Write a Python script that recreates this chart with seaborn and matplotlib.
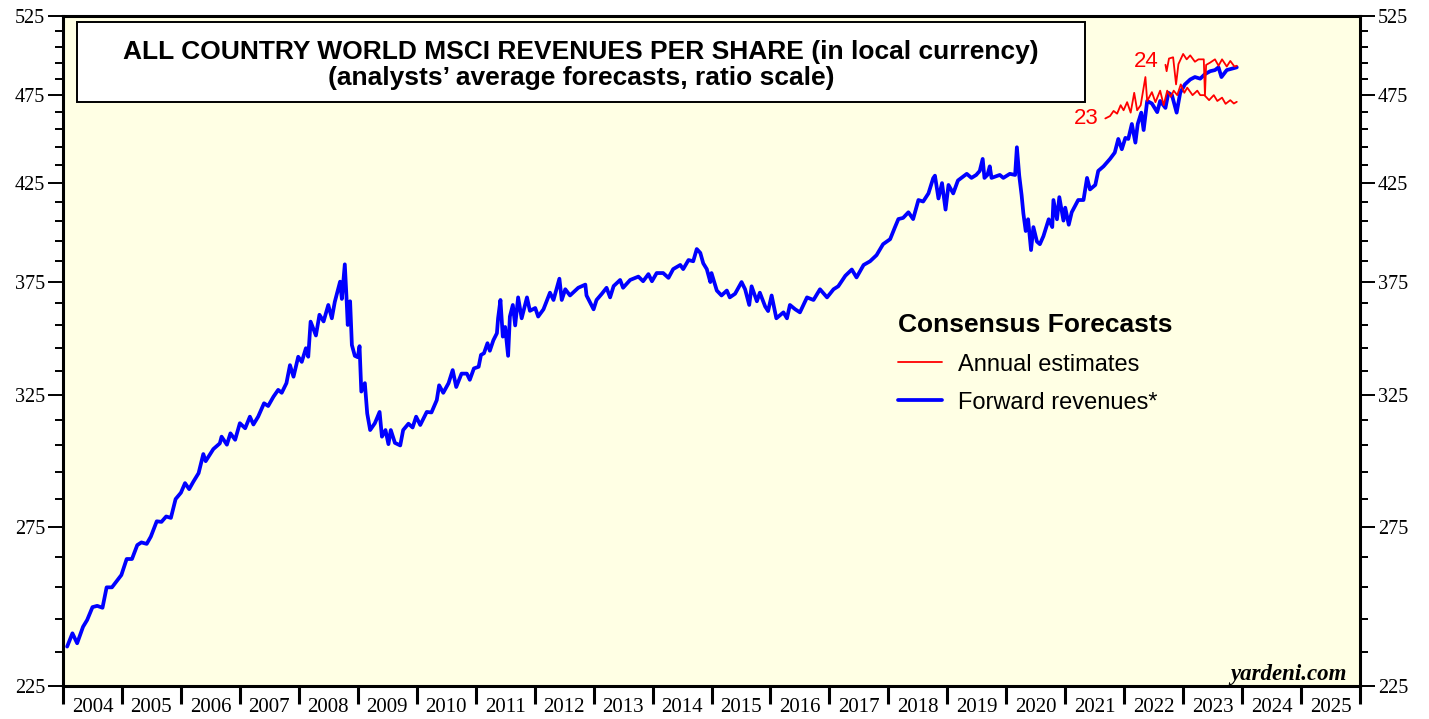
import matplotlib
matplotlib.use('Agg')
import matplotlib.pyplot as plt
import seaborn as sns
from matplotlib.patches import Rectangle
from matplotlib.ticker import NullFormatter

# Forward revenues per share (decimal year, value)
fwd_years = [
    2004.07, 2004.16, 2004.24, 2004.34, 2004.41, 2004.50, 2004.58, 2004.67, 2004.74, 2004.83,
    2004.99, 2005.08, 2005.17, 2005.26, 2005.33, 2005.42, 2005.49, 2005.59, 2005.67, 2005.75,
    2005.83, 2005.91, 2006.00, 2006.07, 2006.14, 2006.21, 2006.30, 2006.38, 2006.42, 2006.46,
    2006.55, 2006.66, 2006.69, 2006.78, 2006.84, 2006.92, 2007.00, 2007.09, 2007.17, 2007.23,
    2007.31, 2007.41, 2007.48, 2007.57, 2007.65, 2007.71, 2007.79, 2007.85, 2007.91, 2007.99,
    2008.05, 2008.12, 2008.16, 2008.20, 2008.29, 2008.35, 2008.42, 2008.50, 2008.56, 2008.61,
    2008.70, 2008.73, 2008.78, 2008.81, 2008.83, 2008.87, 2008.90, 2008.95, 2009.00, 2009.03,
    2009.06, 2009.12, 2009.16, 2009.21, 2009.29, 2009.37, 2009.41, 2009.47, 2009.52, 2009.56,
    2009.63, 2009.72, 2009.77, 2009.86, 2009.93, 2009.99, 2010.06, 2010.17, 2010.25, 2010.34,
    2010.38, 2010.45, 2010.54, 2010.61, 2010.67, 2010.76, 2010.85, 2010.90, 2010.97, 2011.05,
    2011.09, 2011.14, 2011.20, 2011.24, 2011.30, 2011.36, 2011.38, 2011.42, 2011.46, 2011.50,
    2011.55, 2011.58, 2011.63, 2011.67, 2011.72, 2011.78, 2011.87, 2011.92, 2012.01, 2012.06,
    2012.15, 2012.26, 2012.32, 2012.42, 2012.46, 2012.52, 2012.60, 2012.74, 2012.86, 2012.88,
    2013.00, 2013.05, 2013.14, 2013.22, 2013.28, 2013.34, 2013.45, 2013.50, 2013.62, 2013.76,
    2013.84, 2013.93, 2013.99, 2014.07, 2014.18, 2014.27, 2014.35, 2014.47, 2014.52, 2014.61,
    2014.69, 2014.75, 2014.81, 2014.86, 2014.92, 2014.98, 2015.00, 2015.09, 2015.17, 2015.26,
    2015.31, 2015.40, 2015.51, 2015.57, 2015.64, 2015.68, 2015.77, 2015.82, 2015.91, 2015.96,
    2016.02, 2016.10, 2016.22, 2016.28, 2016.33, 2016.42, 2016.50, 2016.62, 2016.73, 2016.84,
    2016.96, 2017.07, 2017.15, 2017.27, 2017.38, 2017.46, 2017.58, 2017.69, 2017.80, 2017.91,
    2018.03, 2018.11, 2018.17, 2018.25, 2018.34, 2018.42, 2018.51, 2018.59, 2018.68, 2018.76,
    2018.79, 2018.85, 2018.91, 2018.97, 2019.02, 2019.10, 2019.18, 2019.33, 2019.41, 2019.49,
    2019.55, 2019.60, 2019.63, 2019.68, 2019.72, 2019.75, 2019.89, 2019.95, 2020.06, 2020.15,
    2020.18, 2020.22, 2020.26, 2020.29, 2020.33, 2020.37, 2020.42, 2020.46, 2020.52, 2020.57,
    2020.63, 2020.72, 2020.78, 2020.80, 2020.86, 2020.90, 2020.97, 2021.00, 2021.06, 2021.11,
    2021.22, 2021.31, 2021.37, 2021.42, 2021.51, 2021.56, 2021.65, 2021.76, 2021.84, 2021.90,
    2021.96, 2022.02, 2022.07, 2022.13, 2022.19, 2022.23, 2022.29, 2022.33, 2022.39, 2022.47,
    2022.56, 2022.61, 2022.70, 2022.75, 2022.81, 2022.89, 2022.95, 2023.03, 2023.12, 2023.20,
    2023.29, 2023.37, 2023.46, 2023.54, 2023.60, 2023.65, 2023.74, 2023.82, 2023.91,
]
fwd_values = [
    236.5, 240.5, 237.5, 242.5, 244.6, 248.6, 249.0, 248.4, 254.9, 254.9,
    258.9, 264.2, 264.2, 268.9, 269.8, 269.3, 271.8, 277.1, 276.9, 278.8,
    278.3, 285.0, 287.3, 290.8, 288.6, 291.3, 294.5, 301.7, 299.0, 300.4,
    303.6, 305.8, 308.4, 305.3, 309.7, 307.2, 313.7, 311.7, 316.3, 313.2,
    316.3, 321.7, 320.6, 324.4, 327.2, 326.0, 330.0, 337.6, 332.7, 341.2,
    339.0, 344.9, 341.2, 356.7, 350.5, 359.8, 356.8, 364.3, 358.2, 365.7,
    375.2, 367.1, 383.5, 367.1, 355.2, 366.0, 346.3, 341.6, 341.0, 345.8,
    326.5, 330.0, 317.6, 311.0, 313.7, 318.2, 308.4, 311.0, 305.5, 311.0,
    306.0, 305.0, 311.0, 313.5, 312.0, 316.3, 313.0, 318.2, 318.0, 323.0,
    329.1, 326.0, 330.0, 335.5, 328.4, 334.0, 334.0, 331.4, 336.2, 336.9,
    342.0, 342.7, 347.1, 343.8, 348.4, 351.5, 358.2, 366.6, 350.0, 354.3,
    341.6, 359.0, 364.3, 355.0, 367.8, 358.2, 367.8, 361.6, 362.9, 359.0,
    362.3, 370.0, 366.6, 376.6, 366.6, 371.6, 368.7, 372.3, 373.8, 368.7,
    362.3, 366.6, 369.5, 372.3, 367.8, 373.1, 376.0, 372.3, 376.0, 377.6,
    375.4, 378.8, 375.4, 379.3, 379.3, 377.0, 381.2, 383.2, 381.2, 385.6,
    385.0, 391.0, 389.1, 384.0, 381.2, 375.0, 379.3, 371.0, 368.7, 371.0,
    367.8, 369.5, 375.0, 371.6, 364.3, 373.0, 366.0, 370.0, 363.6, 361.5,
    368.7, 358.2, 360.9, 358.2, 364.3, 362.3, 360.9, 367.8, 366.6, 371.6,
    367.8, 371.6, 373.0, 378.0, 381.0, 377.2, 383.2, 385.0, 388.0, 393.4,
    395.9, 401.8, 406.1, 406.7, 409.6, 406.1, 416.0, 415.2, 419.5, 427.6,
    429.0, 416.8, 425.0, 411.0, 424.0, 419.5, 426.4, 430.0, 427.8, 429.4,
    431.6, 438.2, 427.8, 429.4, 434.1, 427.8, 429.4, 427.8, 430.0, 429.4,
    444.7, 429.0, 418.6, 409.0, 400.0, 406.0, 390.5, 402.0, 394.7, 393.4,
    397.4, 406.0, 402.0, 416.0, 406.0, 417.5, 405.3, 412.0, 403.2, 409.6,
    416.0, 416.0, 427.8, 421.6, 424.0, 431.6, 434.1, 438.2, 441.7, 449.4,
    443.6, 450.0, 449.4, 458.0, 447.3, 458.0, 464.6, 454.5, 471.5, 470.0,
    464.9, 471.5, 467.4, 476.4, 475.0, 464.6, 476.4, 481.5, 484.5, 486.0,
    485.0, 487.8, 489.6, 490.3, 492.0, 486.0, 490.3, 491.1, 492.0,
]

# Annual estimates for 2023
est23_years = [
    2021.68, 2021.76, 2021.82, 2021.88, 2021.94, 2021.99, 2022.05, 2022.11, 2022.17, 2022.22,
    2022.28, 2022.36, 2022.39, 2022.47, 2022.53, 2022.61, 2022.67, 2022.73, 2022.79, 2022.84,
    2022.90, 2022.96, 2023.02, 2023.07, 2023.16, 2023.24, 2023.29, 2023.36, 2023.44, 2023.52,
    2023.58, 2023.66, 2023.72, 2023.80, 2023.86, 2023.91,
]
est23_values = [
    461.2, 462.6, 465.6, 464.0, 469.0, 466.0, 470.8, 464.6, 476.4, 466.0,
    469.0, 486.0, 471.5, 476.8, 470.8, 477.7, 469.0, 477.7, 474.0, 477.7,
    475.0, 481.5, 476.4, 479.5, 475.0, 477.7, 475.0, 475.0, 472.0, 475.0,
    471.5, 473.5, 469.8, 472.0, 470.0, 471.0,
]

# Annual estimates for 2024
est24_years = [
    2022.70, 2022.72, 2022.76, 2022.83, 2022.88, 2022.92, 2023.00, 2023.06, 2023.12, 2023.20,
    2023.26, 2023.35, 2023.37, 2023.39, 2023.46, 2023.54, 2023.60, 2023.66, 2023.74, 2023.80,
    2023.87, 2023.91,
]
est24_values = [
    493.6, 489.6, 497.5, 498.3, 481.5, 494.0, 500.4, 497.0, 499.5, 495.5,
    497.0, 497.0, 475.0, 493.5, 495.0, 497.0, 493.0, 497.0, 492.5, 496.0,
    492.5, 493.0,
]

year_edges = list(range(2004, 2027))
year_labels = [str(y) for y in range(2004, 2026)]
y_major = [225, 275, 325, 375, 425, 475, 525]
y_minor = [v for v in range(235, 525, 10) if (v - 225) % 50 != 0]

sns.set_style('ticks')
plt.rcParams['font.family'] = ['Liberation Sans', 'DejaVu Sans']
plt.rcParams['text.color'] = 'black'
plt.rcParams['xtick.color'] = 'black'
plt.rcParams['ytick.color'] = 'black'
plt.rcParams['axes.labelcolor'] = 'black'

fig = plt.figure(figsize=(14.29, 7.19), dpi=100)
ax = fig.add_axes([63 / 1429, 1 - 686 / 719, 1297 / 1429, 670 / 719])
ax.set_facecolor('#FFFFE4')

# lines: blue under red
sns.lineplot(x=fwd_years, y=fwd_values, ax=ax, color='#0000FF', linewidth=2.7,
             estimator=None, sort=False, label='Forward revenues*')
sns.lineplot(x=est23_years, y=est23_values, ax=ax, color='#FF0000', linewidth=1.3,
             estimator=None, sort=False, label='Annual estimates')
sns.lineplot(x=est24_years, y=est24_values, ax=ax, color='#FF0000', linewidth=1.3,
             estimator=None, sort=False, legend=False)

ax.annotate('23', xy=(est23_years[0], est23_values[0]), xytext=(-5, 0),
            textcoords='offset points', ha='right', va='center', color='#FF0000', fontsize=16)
ax.annotate('24', xy=(est24_years[0], est24_values[0]), xytext=(-5, 2),
            textcoords='offset points', ha='right', va='center', color='#FF0000', fontsize=16)

# y axis (ratio scale), labels on both sides
ax.set_yscale('log')
ax.set_ylim(225, 525)
ax.set_yticks(y_major)
ax.set_yticklabels([str(v) for v in y_major])
ax.set_yticks(y_minor, minor=True)
ax.yaxis.set_minor_formatter(NullFormatter())
ax.tick_params(axis='y', which='both', left=True, right=True,
               labelleft=True, labelright=True, direction='out')
ax.tick_params(axis='y', which='major', length=11, width=1.4, labelsize=14.5, pad=2)
ax.tick_params(axis='y', which='minor', length=5.5, width=1.4)

# x axis: ticks at year boundaries, labels mid-year
ax.set_xlim(2004, 2026)
ax.set_xticks(year_edges)
ax.set_xticklabels([])
ax.set_xticks([y + 0.5 for y in range(2004, 2026)], minor=True)
ax.set_xticklabels(year_labels, minor=True)
ax.tick_params(axis='x', which='major', length=13, width=2.2, direction='out')
ax.tick_params(axis='x', which='minor', length=0, labelsize=15, pad=9)
for lbl in ax.yaxis.get_majorticklabels() + ax.xaxis.get_minorticklabels():
    lbl.set_family('Liberation Serif')
ax.set_xlabel('')
ax.set_ylabel('')

for side in ['left', 'right', 'top', 'bottom']:
    ax.spines[side].set_visible(True)
    ax.spines[side].set_linewidth(2.2)
    ax.spines[side].set_color('black')

# title box
ax.add_patch(Rectangle((0.0108, 0.872), 0.777, 0.119, transform=ax.transAxes,
                       facecolor='white', edgecolor='black', linewidth=1.4, zorder=3))
ax.text(0.3994, 0.947, 'ALL COUNTRY WORLD MSCI REVENUES PER SHARE (in local currency)',
        transform=ax.transAxes, ha='center', va='center', fontsize=19, fontweight='bold', zorder=4)
ax.text(0.3994, 0.907, '(analysts\u2019 average forecasts, ratio scale)',
        transform=ax.transAxes, ha='center', va='center', fontsize=19, fontweight='bold', zorder=4)

ax.text(0.990, 0.009, 'yardeni.com', transform=ax.transAxes, ha='right', va='baseline',
        family='Liberation Serif', fontweight='bold', style='italic', fontsize=16.5)

# legend
handles, labels = ax.get_legend_handles_labels()
lookup = dict(zip(labels, handles))
leg = ax.legend([lookup['Annual estimates'], lookup['Forward revenues*']],
                ['Annual estimates', 'Forward revenues*'],
                title='Consensus Forecasts', loc='upper left', bbox_to_anchor=(0.644, 0.556),
                frameon=False, fontsize=17, title_fontsize=19, alignment='left',
                handlelength=1.85, handletextpad=0.7, labelspacing=0.68,
                borderpad=0, borderaxespad=0)
leg.get_title().set_fontweight('bold')

fig.savefig('out.png', dpi=100, facecolor='white')
